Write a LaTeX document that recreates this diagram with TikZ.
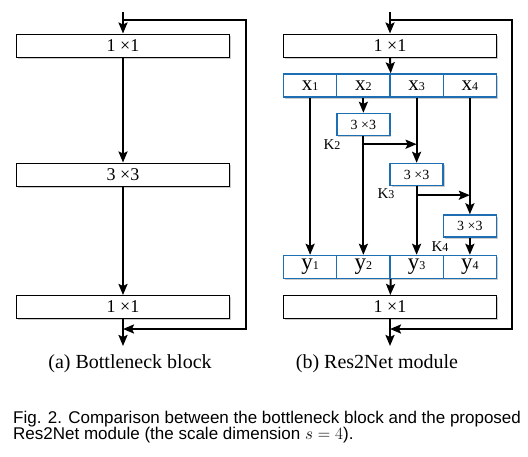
\documentclass[tikz,border=0pt]{standalone}
\usepackage{fontspec}
\setmainfont{Liberation Serif}
\newfontfamily\captionsans{Liberation Sans}
\usetikzlibrary{positioning,shadows,arrows.meta}
\definecolor{splitBlue}{RGB}{30,110,180}
\newcommand{\idx}[1]{{\fontsize{12}{12}\selectfont #1}}
\tikzset{
  layer/.style={rectangle, draw, line width=1pt, fill=white, inner sep=0pt, minimum height=23pt, drop shadow={opacity=0.4, shadow xshift=1.5pt, shadow yshift=-1.8pt}},
  wideLayer/.style={layer, minimum width=213pt, font=\fontsize{18}{18}\selectfont},
  splitCell/.style={layer, draw=splitBlue, line width=1.4pt, minimum width=53.25pt, font=\fontsize{21}{21}\selectfont},
  convLayer/.style={layer, draw=splitBlue, line width=1.4pt, minimum width=53pt, minimum height=22pt, font=\fontsize{14}{14}\selectfont},
  kLabel/.style={inner sep=0pt, font=\fontsize{15}{15}\selectfont},
  flow/.style={-{Stealth[length=11pt,width=9pt,inset=2pt]}, line width=2pt}
}
\begin{document}
\begin{tikzpicture}[x=1pt, y=-1pt]
  \useasboundingbox (0,0) rectangle (528,456);

  % (a) bottleneck block
  \coordinate (aIn) at (123,12);
  \coordinate (aOut) at (123,346);
  \coordinate (aTop) at (246,20);
  \coordinate (aBot) at (246,329);
  \node[wideLayer] (a1) at (123,45.5) {1 ×1};
  \node[wideLayer] (a2) at (123,174.5) {3 ×3};
  \node[wideLayer] (a3) at (123,307) {1 ×1};
  \draw[flow] (aIn) -- (a1);
  \draw[flow] (a1) -- (a2);
  \draw[flow] (a2) -- (a3);
  \draw[flow] (a3) -- (aOut);
  \draw[flow] (aIn |- aTop) -- (aTop) -- (aBot) -- (aOut |- aBot);

  % (b) Res2Net module
  \coordinate (bIn) at (390,12);
  \coordinate (bOut) at (390,346);
  \coordinate (bTop) at (512,20);
  \coordinate (bBot) at (512,329);
  \node[wideLayer] (b1) at (390,45.5) {1 ×1};
  \node[wideLayer] (b2) at (390,307) {1 ×1};
  \foreach \i in {1,...,4}{
    \node[splitCell] (x\i) at ({283.5+53.25*(\i-0.5)},85.5) {x\idx{\i}};
    \node[splitCell, font=\fontsize{23}{23}\selectfont] (y\i) at ({283.5+53.25*(\i-0.5)},267) {y\idx{\i}};
  }
  \node[convLayer] (c2) at (x2 |- 0,124.5) {3 ×3};
  \node[convLayer] (c3) at (x3 |- 0,174.5) {3 ×3};
  \node[convLayer] (c4) at (x4 |- 0,226) {3 ×3};
  \node[kLabel] (k2Lab) at (332,145) {K\idx{2}};
  \node[kLabel] (k3Lab) at (386,194) {K\idx{3}};
  \node[kLabel] (k4Lab) at (440,247) {K\idx{4}};

  \draw[flow] (bIn) -- (b1);
  \draw[flow] (b1.south) -- (x2.north east);
  \draw[flow] (x1) -- (y1);
  \draw[flow] (x2) -- (c2);
  \draw[flow] (c2) -- (y2);
  \draw[flow] (x3) -- (c3);
  \draw[flow] (c3) -- (y3);
  \draw[flow] (x4) -- (c4);
  \draw[flow] (c4) -- (y4);
  \coordinate (k2) at ([yshift=-8pt]c2.south);
  \coordinate (k3) at ([yshift=-9pt]c3.south);
  \draw[flow] (k2) -- (k2 -| x3);
  \draw[flow] (k3) -- (k3 -| x4);
  \draw[flow] (y2.south east) -- (b2);
  \draw[flow] (b2) -- (bOut);
  \draw[flow] (bIn |- bTop) -- (bTop) -- (bBot) -- (bOut |- bBot);

  % captions
  \node[font=\fontsize{20}{20}\selectfont] (capA) at (130,364) {(a) Bottleneck block};
  \node[font=\fontsize{20}{20}\selectfont] (capB) at (377,364) {(b) Res2Net module};
  \node[anchor=base west, inner sep=0pt, font=\captionsans\fontsize{17}{17}\selectfont] (figCapA) at (13,423) {Fig. 2. Comparison between the bottleneck block and the proposed};
  \node[anchor=base west, inner sep=0pt, font=\captionsans\fontsize{17}{17}\selectfont] (figCapB) at (13,439) {Res2Net module (the scale dimension $s = 4$).};
\end{tikzpicture}
\end{document}
